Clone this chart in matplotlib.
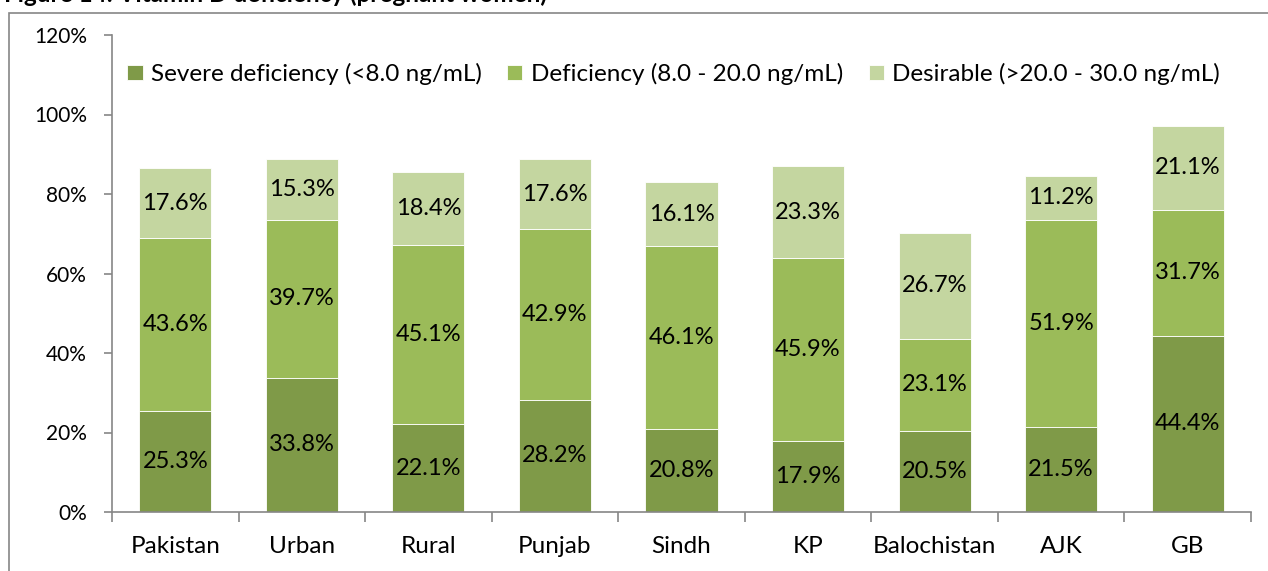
import matplotlib
matplotlib.use("Agg")
import matplotlib.pyplot as plt
from matplotlib.patches import Rectangle
import numpy as np

plt.rcParams['font.family'] = ['Lato', 'DejaVu Sans']

categories = ["Pakistan", "Urban", "Rural", "Punjab", "Sindh", "KP", "Balochistan", "AJK", "GB"]
severe = [25.3, 33.8, 22.1, 28.2, 20.8, 17.9, 20.5, 21.5, 44.4]
deficiency = [43.6, 39.7, 45.1, 42.9, 46.1, 45.9, 23.1, 51.9, 31.7]
desirable = [17.6, 15.3, 18.4, 17.6, 16.1, 23.3, 26.7, 11.2, 21.1]
series_names = ["Severe deficiency (<8.0 ng/mL)", "Deficiency (8.0 - 20.0 ng/mL)",
                "Desirable (>20.0 - 30.0 ng/mL)"]
colors = ["#7F9A48", "#9BBB59", "#C4D6A0"]
yticks = [0, 20, 40, 60, 80, 100, 120]

W, H = 1268, 571
fig = plt.figure(figsize=(W / 100, H / 100), dpi=100)
ax = fig.add_axes([112 / W, 1 - 512 / H, (1251 - 112) / W, (512 - 35) / H])

# outer chart frame
fig.patches.append(Rectangle((9 / W, -0.05), 1.2, 1 - 13 / H + 0.05, transform=fig.transFigure,
                             fill=False, edgecolor="#868686", linewidth=1.2))
# clipped title (only the descenders show in the reference)
fig.text(4 / W, 1 - 1.5 / H, "Figure 14: Vitamin D deficiency (pregnant women)",
         fontsize=17.5, fontweight='bold', va='baseline', ha='left')

x = np.arange(len(categories))
bw = 0.57
bottom = np.zeros(len(categories))
for vals, name, col in zip([severe, deficiency, desirable], series_names, colors):
    vals = np.array(vals)
    ax.bar(x, vals, bw, bottom=bottom, color=col, label=name,
           edgecolor="white", linewidth=0.6)
    for xi, b, v in zip(x, bottom, vals):
        ax.text(xi, b + v / 2, f"{v:.1f}%", ha='center', va='center', fontsize=17, color='black')
    bottom += vals

ax.set_xlim(-0.5, len(categories) - 0.5)
ax.set_ylim(0, 120)
ax.set_yticks(yticks)
ax.set_yticklabels([f"{t}%" for t in yticks], fontsize=15)
ax.set_xticks(x)
ax.set_xticklabels(categories, fontsize=17.5)
ax.set_xticks(np.arange(-0.5, len(categories)), minor=True)
ax.tick_params(axis='x', which='major', length=0, pad=17)
ax.tick_params(axis='x', which='minor', length=7, color="#868686", width=1.2)
ax.tick_params(axis='y', length=6, color="#868686", width=1.2, pad=12)
for s in ['top', 'right']:
    ax.spines[s].set_visible(False)
for s in ['left', 'bottom']:
    ax.spines[s].set_color("#868686")
    ax.spines[s].set_linewidth(1.2)

leg = ax.legend(loc='center', bbox_to_anchor=(0.493, 0.918), ncol=3, frameon=False,
                fontsize=17.5, handlelength=0.62, handleheight=0.62, handletextpad=0.33,
                columnspacing=1.07, borderaxespad=0.0, borderpad=0.0)

fig.savefig("out.png", dpi=100)
